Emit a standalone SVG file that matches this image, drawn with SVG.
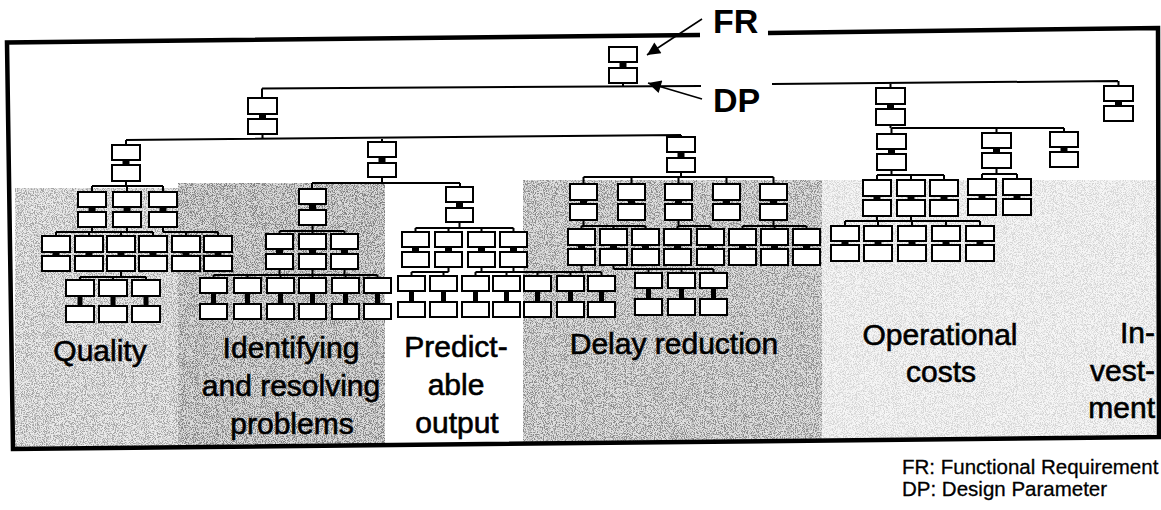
<svg xmlns="http://www.w3.org/2000/svg" width="1161" height="510" viewBox="0 0 1161 510">
<style>
.b{fill:#fff;stroke:#000;stroke-width:2}
.j{fill:#000}
.c{fill:none;stroke:#000;stroke-width:2}
.lbl{font-family:"Liberation Sans",Arial,sans-serif;font-size:30px;fill:#000;stroke:#000;stroke-width:0.6}
.big{font-family:"Liberation Sans",Arial,sans-serif;font-size:34px;font-weight:bold;fill:#000}
.leg{font-family:"Liberation Sans",Arial,sans-serif;font-size:20.5px;fill:#000;stroke:#000;stroke-width:0.3}
.ar{fill:none;stroke:#000;stroke-width:1.6}
</style>
<defs>
<filter id="grain" x="0" y="0" width="1" height="1">
<feTurbulence type="fractalNoise" baseFrequency="1.1" numOctaves="2" seed="4" result="t"/>
<feColorMatrix in="t" type="matrix" values="0 0 0 0 0  0 0 0 0 0  0 0 0 0 0  5 0 0 0 -2.2" result="d"/>
<feComposite in="d" in2="SourceGraphic" operator="in"/>
</filter>
<marker id="ah" viewBox="0 0 10 10" refX="10" refY="5" markerWidth="17" markerHeight="13" markerUnits="userSpaceOnUse" orient="auto">
<path d="M0 0 L10 5 L0 10 z" fill="#000"/>
</marker>
</defs>
<rect width="1161" height="510" fill="#fff"/>
<g id="shading">
<polygon points="15,188 178,188 178,447 15,449" fill="#ebebeb"/>
<polygon points="15,188 178,188 178,447 15,449" fill="#fff" filter="url(#grain)" opacity="0.3"/>
<polygon points="178,183 385,183 385,445 178,447" fill="#dcdcdc"/>
<polygon points="178,183 385,183 385,445 178,447" fill="#fff" filter="url(#grain)" opacity="0.42"/>
<polygon points="523,180 822,180 822,440 523,443" fill="#e0e0e0"/>
<polygon points="523,180 822,180 822,440 523,443" fill="#fff" filter="url(#grain)" opacity="0.38"/>
<polygon points="822,180 1156,180 1156,437 822,440" fill="#f6f6f6"/>
<polygon points="822,180 1156,180 1156,437 822,440" fill="#fff" filter="url(#grain)" opacity="0.13"/>
</g>
<g id="frame">
<path d="M700 35 L7 42.5 L13 449 L1159 437 L1158 28 L768 33" fill="none" stroke="#000" stroke-width="4.5"/>
</g>
<g id="connectors" class="c">
<path d="M623 84 V87 M262 88.5 L701 86 M772 84 L1118 81 M262 88.5 V97 M890.5 83.5 V87 M1118.5 81 V85"/>
<path d="M262.5 135 V138.5 M126 140 L681 135 M126 140 V144 M382 137.5 V141 M681 135 V137"/>
<path d="M126 182 V186 M92 186 H163 M92 186 V191 M127 186 V191 M163 186 V191"/>
<path d="M92 228 V232 M127 228 V232 M163 228 V232 M56 232 H153 M163 232 H218 M56 232 V235 M89 232 V235 M121 232 V235 M153 232 V235 M186 232 V235 M218 232 V235"/>
<path d="M121 272 V277 M80 277 H146 M80 277 V279 M113 277 V279 M146 277 V279"/>
<path d="M382 178 V183 M312 183 H460 M312 183 V188 M460 183 V186"/>
<path d="M312.5 226 V231 M279.5 231 H344.5 M279.5 231 V233 M312.5 231 V233 M344.5 231 V233"/>
<path d="M279.5 270 V275 M312.5 270 V275 M344.5 270 V275 M213.5 275 H377.5 M213.5 275 V277 M247.5 275 V277 M280.5 275 V277 M312.5 275 V277 M345.5 275 V277 M377.5 275 V277"/>
<path d="M459.5 223 V228 M415.5 228 H513.5 M415.5 228 V231 M448.5 228 V231 M481.5 228 V231 M513.5 228 V231"/>
<path d="M448.5 268 V272 M411.5 272 H448.5 M481.5 268 V272 M513.5 268 V272 M581.5 266 V272 M475.5 272 H601.5 M411.5 272 V275 M443.5 272 V275 M475.5 272 V275 M506.5 272 V275 M537.5 272 V275 M570.5 272 V275 M601.5 272 V275"/>
<path d="M681 173 V177 M583.5 177 H773.5 M583.5 177 V183 M631.5 177 V183 M678.5 177 V183 M726.5 177 V183 M773.5 177 V183"/>
<path d="M583.5 221 V226 M678.5 221 V226 M773.5 221 V226 M581.5 226 H645.5 M677.5 226 H710.5 M742.5 226 H806.5 M581.5 226 V228 M613.5 226 V228 M645.5 226 V228 M677.5 226 V228 M710.5 226 V228 M742.5 226 V228 M774.5 226 V228 M806.5 226 V228"/>
<path d="M613.5 266 V269 M613.5 269 H713.5 M648.5 269 V272 M681.5 269 V272 M713.5 269 V272"/>
<path d="M890.5 126 V128 M891.5 128 H1064 M891.5 128 V133 M996.5 128 V132 M1064 128 V131"/>
<path d="M891.5 171 V175 M877 175 H944 M877 175 V179 M911 175 V179 M944 175 V179"/>
<path d="M996.5 169 V174 M982 174 H1017 M982 174 V178 M1017 174 V178"/>
<path d="M877 217 V221 M911 217 V221 M845 221 H980 M845 221 V225 M878 221 V225 M912 221 V225 M946 221 V225 M980 221 V225"/>
</g>
<g id="root"><rect class="b" x="609" y="47" width="28" height="15"/><rect class="b" x="609" y="68" width="28" height="15"/><rect class="j" x="619.5" y="63" width="7" height="4"/></g>
<g id="n-a"><rect class="b" x="248" y="98" width="29" height="16"/><rect class="b" x="248" y="119" width="29" height="15"/><rect class="j" x="259" y="115" width="7" height="3"/></g>
<g id="n-op"><rect class="b" x="876" y="88" width="29" height="16"/><rect class="b" x="876" y="109" width="29" height="16"/><rect class="j" x="887" y="105" width="7" height="3"/></g>
<g id="n-inv"><rect class="b" x="1104" y="86" width="29" height="15"/><rect class="b" x="1104" y="106" width="29" height="15"/><rect class="j" x="1115" y="102" width="7" height="3"/></g>
<g id="n-q"><rect class="b" x="112" y="145" width="28" height="15"/><rect class="b" x="112" y="165" width="28" height="16"/><rect class="j" x="122.5" y="161" width="7" height="3"/></g>
<g id="n-i"><rect class="b" x="368" y="142" width="28" height="15"/><rect class="b" x="368" y="163" width="28" height="14"/><rect class="j" x="378.5" y="158" width="7" height="4"/></g>
<g id="n-d"><rect class="b" x="667" y="137" width="28" height="15"/><rect class="b" x="667" y="158" width="28" height="14"/><rect class="j" x="677.5" y="153" width="7" height="4"/></g>
<g id="n-q1"><rect class="b" x="78" y="192" width="28" height="15"/><rect class="b" x="78" y="212" width="28" height="15"/><rect class="j" x="88.5" y="208" width="7" height="3"/></g>
<g id="n-q2"><rect class="b" x="113" y="192" width="28" height="15"/><rect class="b" x="113" y="212" width="28" height="15"/><rect class="j" x="123.5" y="208" width="7" height="3"/></g>
<g id="n-q3"><rect class="b" x="149" y="192" width="28" height="15"/><rect class="b" x="149" y="212" width="28" height="15"/><rect class="j" x="159.5" y="208" width="7" height="3"/></g>
<g id="n-q4a"><rect class="b" x="42" y="236" width="28" height="16"/><rect class="b" x="42" y="256" width="28" height="15"/><rect class="j" x="52.5" y="253" width="7" height="2"/></g>
<g id="n-q4b"><rect class="b" x="75" y="236" width="28" height="16"/><rect class="b" x="75" y="256" width="28" height="15"/><rect class="j" x="85.5" y="253" width="7" height="2"/></g>
<g id="n-q4c"><rect class="b" x="107" y="236" width="28" height="16"/><rect class="b" x="107" y="256" width="28" height="15"/><rect class="j" x="117.5" y="253" width="7" height="2"/></g>
<g id="n-q4d"><rect class="b" x="139" y="236" width="28" height="16"/><rect class="b" x="139" y="256" width="28" height="15"/><rect class="j" x="149.5" y="253" width="7" height="2"/></g>
<g id="n-q4e"><rect class="b" x="172" y="236" width="28" height="16"/><rect class="b" x="172" y="256" width="28" height="15"/><rect class="j" x="182.5" y="253" width="7" height="2"/></g>
<g id="n-q4f"><rect class="b" x="204" y="236" width="28" height="16"/><rect class="b" x="204" y="256" width="28" height="15"/><rect class="j" x="214.5" y="253" width="7" height="2"/></g>
<g id="n-q5a"><rect class="b" x="66" y="280" width="28" height="16"/><rect class="b" x="66" y="306" width="28" height="16"/><rect class="j" x="77.5" y="297" width="5" height="8"/></g>
<g id="n-q5b"><rect class="b" x="99" y="280" width="28" height="16"/><rect class="b" x="99" y="306" width="28" height="16"/><rect class="j" x="110.5" y="297" width="5" height="8"/></g>
<g id="n-q5c"><rect class="b" x="132" y="280" width="28" height="16"/><rect class="b" x="132" y="306" width="28" height="16"/><rect class="j" x="143.5" y="297" width="5" height="8"/></g>
<g id="n-i1"><rect class="b" x="299" y="189" width="27" height="15"/><rect class="b" x="299" y="210" width="27" height="15"/><rect class="j" x="309" y="205" width="7" height="4"/></g>
<g id="n-p"><rect class="b" x="446" y="187" width="27" height="15"/><rect class="b" x="446" y="208" width="27" height="14"/><rect class="j" x="456" y="203" width="7" height="4"/></g>
<g id="n-i4a"><rect class="b" x="266" y="234" width="27" height="15"/><rect class="b" x="266" y="254" width="27" height="15"/><rect class="j" x="276" y="250" width="7" height="3"/></g>
<g id="n-i4b"><rect class="b" x="299" y="234" width="27" height="15"/><rect class="b" x="299" y="254" width="27" height="15"/><rect class="j" x="309" y="250" width="7" height="3"/></g>
<g id="n-i4c"><rect class="b" x="331" y="234" width="27" height="15"/><rect class="b" x="331" y="254" width="27" height="15"/><rect class="j" x="341" y="250" width="7" height="3"/></g>
<g id="n-i5a"><rect class="b" x="200" y="278" width="27" height="15"/><rect class="b" x="200" y="304" width="27" height="15"/><rect class="j" x="211" y="294" width="5" height="9"/></g>
<g id="n-i5b"><rect class="b" x="234" y="278" width="27" height="15"/><rect class="b" x="234" y="304" width="27" height="15"/><rect class="j" x="245" y="294" width="5" height="9"/></g>
<g id="n-i5c"><rect class="b" x="267" y="278" width="27" height="15"/><rect class="b" x="267" y="304" width="27" height="15"/><rect class="j" x="278" y="294" width="5" height="9"/></g>
<g id="n-i5d"><rect class="b" x="299" y="278" width="27" height="15"/><rect class="b" x="299" y="304" width="27" height="15"/><rect class="j" x="310" y="294" width="5" height="9"/></g>
<g id="n-i5e"><rect class="b" x="332" y="278" width="27" height="15"/><rect class="b" x="332" y="304" width="27" height="15"/><rect class="j" x="343" y="294" width="5" height="9"/></g>
<g id="n-i5f"><rect class="b" x="364" y="278" width="27" height="15"/><rect class="b" x="364" y="304" width="27" height="15"/><rect class="j" x="375" y="294" width="5" height="9"/></g>
<g id="n-p4a"><rect class="b" x="402" y="232" width="27" height="15"/><rect class="b" x="402" y="252" width="27" height="15"/><rect class="j" x="412" y="248" width="7" height="3"/></g>
<g id="n-p4b"><rect class="b" x="435" y="232" width="27" height="15"/><rect class="b" x="435" y="252" width="27" height="15"/><rect class="j" x="445" y="248" width="7" height="3"/></g>
<g id="n-p4c"><rect class="b" x="468" y="232" width="27" height="15"/><rect class="b" x="468" y="252" width="27" height="15"/><rect class="j" x="478" y="248" width="7" height="3"/></g>
<g id="n-p4d"><rect class="b" x="500" y="232" width="27" height="15"/><rect class="b" x="500" y="252" width="27" height="15"/><rect class="j" x="510" y="248" width="7" height="3"/></g>
<g id="n-p5a"><rect class="b" x="398" y="276" width="27" height="15"/><rect class="b" x="398" y="302" width="27" height="15"/><rect class="j" x="409" y="292" width="5" height="9"/></g>
<g id="n-p5b"><rect class="b" x="430" y="276" width="27" height="15"/><rect class="b" x="430" y="302" width="27" height="15"/><rect class="j" x="441" y="292" width="5" height="9"/></g>
<g id="n-p5c"><rect class="b" x="462" y="276" width="27" height="15"/><rect class="b" x="462" y="302" width="27" height="15"/><rect class="j" x="473" y="292" width="5" height="9"/></g>
<g id="n-p5d"><rect class="b" x="493" y="276" width="27" height="15"/><rect class="b" x="493" y="302" width="27" height="15"/><rect class="j" x="504" y="292" width="5" height="9"/></g>
<g id="n-p5e"><rect class="b" x="524" y="276" width="27" height="15"/><rect class="b" x="524" y="302" width="27" height="15"/><rect class="j" x="535" y="292" width="5" height="9"/></g>
<g id="n-p5f"><rect class="b" x="557" y="276" width="27" height="15"/><rect class="b" x="557" y="302" width="27" height="15"/><rect class="j" x="568" y="292" width="5" height="9"/></g>
<g id="n-p5g"><rect class="b" x="588" y="276" width="27" height="15"/><rect class="b" x="588" y="302" width="27" height="15"/><rect class="j" x="599" y="292" width="5" height="9"/></g>
<g id="n-d3a"><rect class="b" x="570" y="184" width="27" height="16"/><rect class="b" x="570" y="204" width="27" height="16"/><rect class="j" x="580" y="201" width="7" height="2"/></g>
<g id="n-d3b"><rect class="b" x="618" y="184" width="27" height="16"/><rect class="b" x="618" y="204" width="27" height="16"/><rect class="j" x="628" y="201" width="7" height="2"/></g>
<g id="n-d3c"><rect class="b" x="665" y="184" width="27" height="16"/><rect class="b" x="665" y="204" width="27" height="16"/><rect class="j" x="675" y="201" width="7" height="2"/></g>
<g id="n-d3d"><rect class="b" x="713" y="184" width="27" height="16"/><rect class="b" x="713" y="204" width="27" height="16"/><rect class="j" x="723" y="201" width="7" height="2"/></g>
<g id="n-d3e"><rect class="b" x="760" y="184" width="27" height="16"/><rect class="b" x="760" y="204" width="27" height="16"/><rect class="j" x="770" y="201" width="7" height="2"/></g>
<g id="n-d4a"><rect class="b" x="568" y="229" width="27" height="16"/><rect class="b" x="568" y="249" width="27" height="16"/><rect class="j" x="578" y="246" width="7" height="2"/></g>
<g id="n-d4b"><rect class="b" x="600" y="229" width="27" height="16"/><rect class="b" x="600" y="249" width="27" height="16"/><rect class="j" x="610" y="246" width="7" height="2"/></g>
<g id="n-d4c"><rect class="b" x="632" y="229" width="27" height="16"/><rect class="b" x="632" y="249" width="27" height="16"/><rect class="j" x="642" y="246" width="7" height="2"/></g>
<g id="n-d4d"><rect class="b" x="664" y="229" width="27" height="16"/><rect class="b" x="664" y="249" width="27" height="16"/><rect class="j" x="674" y="246" width="7" height="2"/></g>
<g id="n-d4e"><rect class="b" x="697" y="229" width="27" height="16"/><rect class="b" x="697" y="249" width="27" height="16"/><rect class="j" x="707" y="246" width="7" height="2"/></g>
<g id="n-d4f"><rect class="b" x="729" y="229" width="27" height="16"/><rect class="b" x="729" y="249" width="27" height="16"/><rect class="j" x="739" y="246" width="7" height="2"/></g>
<g id="n-d4g"><rect class="b" x="761" y="229" width="27" height="16"/><rect class="b" x="761" y="249" width="27" height="16"/><rect class="j" x="771" y="246" width="7" height="2"/></g>
<g id="n-d4h"><rect class="b" x="793" y="229" width="27" height="16"/><rect class="b" x="793" y="249" width="27" height="16"/><rect class="j" x="803" y="246" width="7" height="2"/></g>
<g id="n-d5a"><rect class="b" x="635" y="273" width="27" height="15"/><rect class="b" x="635" y="299" width="27" height="16"/><rect class="j" x="646" y="289" width="5" height="9"/></g>
<g id="n-d5b"><rect class="b" x="668" y="273" width="27" height="15"/><rect class="b" x="668" y="299" width="27" height="16"/><rect class="j" x="679" y="289" width="5" height="9"/></g>
<g id="n-d5c"><rect class="b" x="700" y="273" width="27" height="15"/><rect class="b" x="700" y="299" width="27" height="16"/><rect class="j" x="711" y="289" width="5" height="9"/></g>
<g id="n-o1"><rect class="b" x="877" y="134" width="29" height="15"/><rect class="b" x="877" y="154" width="29" height="16"/><rect class="j" x="888" y="150" width="7" height="3"/></g>
<g id="n-o2"><rect class="b" x="982" y="133" width="29" height="15"/><rect class="b" x="982" y="153" width="29" height="15"/><rect class="j" x="993" y="149" width="7" height="3"/></g>
<g id="n-o3"><rect class="b" x="1050" y="132" width="28" height="15"/><rect class="b" x="1050" y="152" width="28" height="15"/><rect class="j" x="1060.5" y="148" width="7" height="3"/></g>
<g id="n-o1a"><rect class="b" x="863" y="180" width="28" height="16"/><rect class="b" x="863" y="200" width="28" height="16"/><rect class="j" x="873.5" y="197" width="7" height="2"/></g>
<g id="n-o1b"><rect class="b" x="897" y="180" width="28" height="16"/><rect class="b" x="897" y="200" width="28" height="16"/><rect class="j" x="907.5" y="197" width="7" height="2"/></g>
<g id="n-o1c"><rect class="b" x="930" y="180" width="28" height="16"/><rect class="b" x="930" y="200" width="28" height="16"/><rect class="j" x="940.5" y="197" width="7" height="2"/></g>
<g id="n-o2a"><rect class="b" x="968" y="179" width="28" height="16"/><rect class="b" x="968" y="199" width="28" height="16"/><rect class="j" x="978.5" y="196" width="7" height="2"/></g>
<g id="n-o2b"><rect class="b" x="1003" y="179" width="28" height="16"/><rect class="b" x="1003" y="199" width="28" height="16"/><rect class="j" x="1013.5" y="196" width="7" height="2"/></g>
<g id="n-o4a"><rect class="b" x="831" y="226" width="28" height="15"/><rect class="b" x="831" y="245" width="28" height="16"/><rect class="j" x="841.5" y="242" width="7" height="2"/></g>
<g id="n-o4b"><rect class="b" x="864" y="226" width="28" height="15"/><rect class="b" x="864" y="245" width="28" height="16"/><rect class="j" x="874.5" y="242" width="7" height="2"/></g>
<g id="n-o4c"><rect class="b" x="898" y="226" width="28" height="15"/><rect class="b" x="898" y="245" width="28" height="16"/><rect class="j" x="908.5" y="242" width="7" height="2"/></g>
<g id="n-o4d"><rect class="b" x="932" y="226" width="28" height="15"/><rect class="b" x="932" y="245" width="28" height="16"/><rect class="j" x="942.5" y="242" width="7" height="2"/></g>
<g id="n-o4e"><rect class="b" x="966" y="226" width="28" height="15"/><rect class="b" x="966" y="245" width="28" height="16"/><rect class="j" x="976.5" y="242" width="7" height="2"/></g>
<g id="fr-dp-labels">
<text class="big" x="713" y="33">FR</text>
<text class="big" x="713" y="112">DP</text>
<line class="ar" x1="702" y1="19" x2="647" y2="55" marker-end="url(#ah)"/>
<line class="ar" x1="702" y1="99" x2="648" y2="83" marker-end="url(#ah)"/>
</g>
<g id="categories" class="lbl" text-anchor="middle">
<text x="100" y="361">Quality</text>
<text x="291" y="358">Identifying</text>
<text x="291" y="396">and resolving</text>
<text x="292" y="434">problems</text>
<text x="456" y="357">Predict-</text>
<text x="456" y="395">able</text>
<text x="457" y="433">output</text>
<text x="674" y="354">Delay reduction</text>
<text x="940" y="345">Operational</text>
<text x="941" y="382">costs</text>
<text x="1155" y="343" text-anchor="end">In-</text>
<text x="1155" y="381" text-anchor="end">vest-</text>
<text x="1155" y="418" text-anchor="end">ment</text>
</g>
<g id="legend" class="leg">
<text x="902" y="474">FR: Functional Requirement</text>
<text x="902" y="496">DP: Design Parameter</text>
</g>
</svg>
